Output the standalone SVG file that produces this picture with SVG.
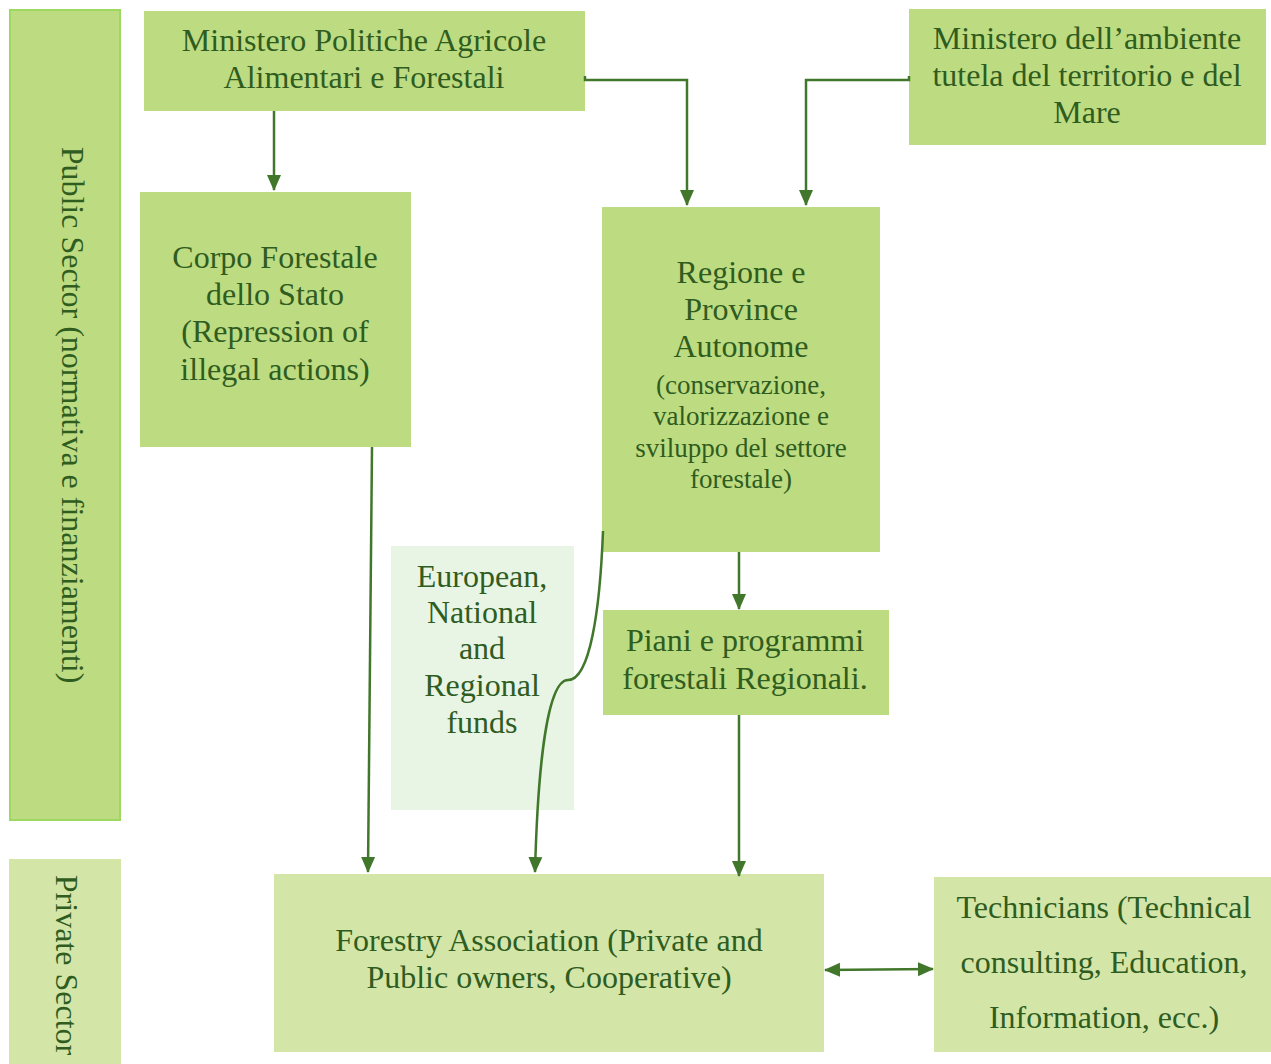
<svg xmlns="http://www.w3.org/2000/svg" width="1271" height="1064" viewBox="0 0 1271 1064">
<style>
text{font-family:'Liberation Serif','Times New Roman',serif;fill:#2F5C1F;text-anchor:middle}
.t{font-size:32px}
.s{font-size:27px}
.dark{fill:#BDDB80}
.light{fill:#D3E6A8}
.conn{fill:none;stroke:#41772B;stroke-width:2.5}
</style>
<defs>
<marker id="ah" markerUnits="userSpaceOnUse" markerWidth="16" markerHeight="16" viewBox="0 0 16 16" refX="15" refY="8" orient="auto-start-reverse">
<path d="M0,1 L16,8 L0,15 Z" fill="#41772B"/>
</marker>
</defs>
<g id="public-sector">
<rect x="10" y="10" width="110" height="810" fill="#BDDB80" stroke="#9DD860" stroke-width="2"/>
<text class="t" transform="translate(72,415) rotate(90)" y="10">Public Sector (normativa e finanziamenti)</text>
</g>
<g id="private-sector">
<rect class="light" x="9" y="859" width="112" height="205"/>
<text class="t" transform="translate(66,965) rotate(90)" y="10">Private Sector</text>
</g>
<g id="ministero-politiche">
<rect class="dark" x="144" y="11" width="441" height="100"/>
<text class="t" x="364" y="51">Ministero Politiche Agricole</text>
<text class="t" x="364" y="88">Alimentari e Forestali</text>
</g>
<g id="ministero-ambiente">
<rect class="dark" x="909" y="9" width="357" height="136"/>
<text class="t" x="1087" y="49">Ministero dell’ambiente</text>
<text class="t" x="1087" y="86">tutela del territorio e del</text>
<text class="t" x="1087" y="123">Mare</text>
</g>
<g id="corpo-forestale">
<rect class="dark" x="140" y="192" width="271" height="255"/>
<text class="t" x="275" y="268">Corpo Forestale</text>
<text class="t" x="275" y="305">dello Stato</text>
<text class="t" x="275" y="342">(Repression of</text>
<text class="t" x="275" y="380">illegal actions)</text>
</g>
<g id="regione">
<rect class="dark" x="602" y="207" width="278" height="345"/>
<text class="t" x="741" y="283">Regione e</text>
<text class="t" x="741" y="320">Province</text>
<text class="t" x="741" y="357">Autonome</text>
<text class="s" x="741" y="394">(conservazione,</text>
<text class="s" x="741" y="425">valorizzazione e</text>
<text class="s" x="741" y="457">sviluppo del settore</text>
<text class="s" x="741" y="488">forestale)</text>
</g>
<g id="piani">
<rect class="dark" x="603" y="610" width="286" height="105"/>
<text class="t" x="745" y="651">Piani e programmi</text>
<text class="t" x="745" y="689">forestali Regionali.</text>
</g>
<g id="funds">
<rect x="391" y="546" width="183" height="264" fill="#E8F4E4"/>
<text class="t" x="482" y="587">European,</text>
<text class="t" x="482" y="623">National</text>
<text class="t" x="482" y="659">and</text>
<text class="t" x="482" y="696">Regional</text>
<text class="t" x="482" y="733">funds</text>
</g>
<g id="forestry-association">
<rect class="light" x="274" y="874" width="550" height="178"/>
<text class="t" x="549" y="951">Forestry Association (Private and</text>
<text class="t" x="549" y="988">Public owners, Cooperative)</text>
</g>
<g id="technicians">
<rect class="light" x="934" y="877" width="337" height="175"/>
<text class="t" x="1104" y="918">Technicians (Technical</text>
<text class="t" x="1104" y="973">consulting, Education,</text>
<text class="t" x="1104" y="1028">Information, ecc.)</text>
</g>
<g id="connectors">
<path class="conn" d="M274,111 L274,190" marker-end="url(#ah)"/>
<path class="conn" d="M585,76 L585,80 L687,80 L687,205" marker-end="url(#ah)"/>
<path class="conn" d="M909,76 L909,80 L806,80 L806,205" marker-end="url(#ah)"/>
<path class="conn" d="M372,447 L368,872" marker-end="url(#ah)"/>
<path class="conn" d="M603,531 C600,610 590,680 568,680 C548,680 538,760 535,872" marker-end="url(#ah)"/>
<path class="conn" d="M739,552 L739,609" marker-end="url(#ah)"/>
<path class="conn" d="M739,715 L739,876" marker-end="url(#ah)"/>
<path class="conn" d="M825,970 L933,969" marker-start="url(#ah)" marker-end="url(#ah)"/>
</g>
</svg>
